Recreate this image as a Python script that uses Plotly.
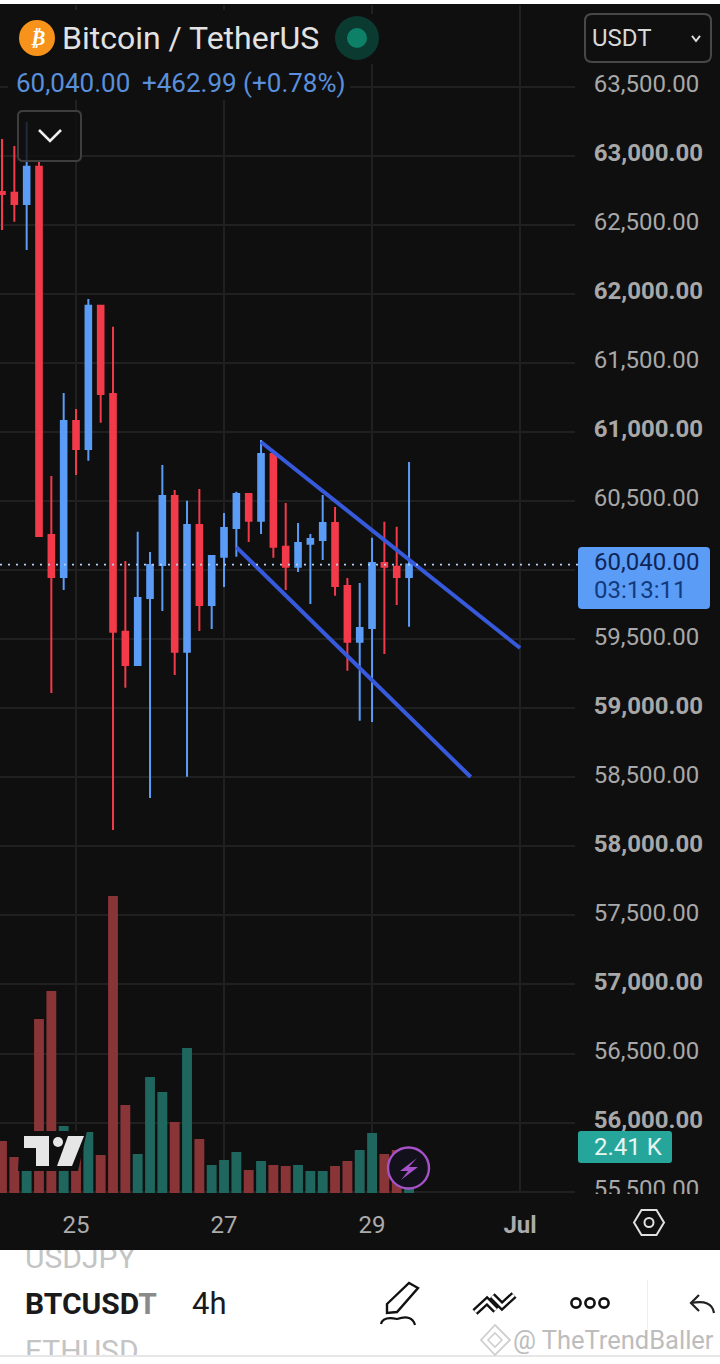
import plotly.graph_objects as go

W, H = 720, 1364

# ---------------- data ----------------
times = [
    "2024-06-24 00:00", "2024-06-24 04:00", "2024-06-24 08:00", "2024-06-24 12:00", "2024-06-24 16:00", "2024-06-24 20:00",
    "2024-06-25 00:00", "2024-06-25 04:00", "2024-06-25 08:00", "2024-06-25 12:00", "2024-06-25 16:00", "2024-06-25 20:00",
    "2024-06-26 00:00", "2024-06-26 04:00", "2024-06-26 08:00", "2024-06-26 12:00", "2024-06-26 16:00", "2024-06-26 20:00",
    "2024-06-27 00:00", "2024-06-27 04:00", "2024-06-27 08:00", "2024-06-27 12:00", "2024-06-27 16:00", "2024-06-27 20:00",
    "2024-06-28 00:00", "2024-06-28 04:00", "2024-06-28 08:00", "2024-06-28 12:00", "2024-06-28 16:00", "2024-06-28 20:00",
    "2024-06-29 00:00", "2024-06-29 04:00", "2024-06-29 08:00", "2024-06-29 12:00",
]
opens = [62738, 62733, 62651, 62921, 60254, 59950, 61080, 60877, 61915, 61275, 59554, 59313,
         59798, 60037, 60537, 59409, 60327, 59747, 60097, 60305, 60551, 60358, 60841, 60169,
         60025, 60191, 60218, 60341, 59885, 59482, 59581, 60051, 60025, 59950]
highs = [63122, 63071, 63245, 62955, 60681, 61282, 61167, 61963, 61920, 61762, 60066, 60278,
         60131, 60761, 60580, 60503, 60587, 60109, 60413, 60568, 60555, 60942, 60848, 60486,
         60341, 60261, 60544, 60457, 59943, 59907, 60235, 60350, 60314, 60783]
lows = [62463, 62523, 62318, 60247, 59110, 59856, 60689, 60792, 61067, 58118, 59148, 59313,
        58350, 59704, 59240, 58504, 59559, 59574, 59878, 60097, 60203, 60261, 60090, 59856,
        59986, 59755, 60073, 59815, 59272, 58910, 58900, 59392, 59747, 59590]
closes = [62723, 62651, 62921, 60247, 59950, 61080, 60877, 61915, 61275, 59554, 59313, 59798,
          60037, 60537, 59409, 60327, 59747, 60102, 60305, 60551, 60358, 60841, 60169, 60025,
          60196, 60225, 60341, 59885, 59482, 59581, 60051, 60025, 59950, 60040]
volumes_k = [26, 18, 20.5, 87, 101, 33.5, 18.5, 30.5, 19, 148.5, 44, 19.5,
             58, 50.5, 35.5, 72.5, 27, 14, 16.5, 20.5, 11.5, 16, 14, 13.5,
             14, 11, 11, 13.5, 16, 21.5, 30, 19.5, 21.5, 2.41]

upper_x = ["2024-06-27 12:00", "2024-07-01 00:00"]
upper_y = [60928, 59436]
lower_x = ["2024-06-27 04:00", "2024-06-30 08:00"]
lower_y = [60167, 58502]

last_price = 60040
price_ticks = [55500 + 500 * i for i in range(17)]
date_ticks = ["2024-06-25", "2024-06-27", "2024-06-29", "2024-07-01"]
date_labels = ["25", "27", "29", "<b>Jul</b>"]

# ---------------- colours ----------------
BG = "#0f0f0f"
GRID = "#202020"
BLUE = "#5b9cf6"
RED = "#f23a4a"
VOL_RED = "#893436"
VOL_TEAL = "#1f665f"
LINE = "#3759dc"


def px(x):
    return x / W


def py(y):
    return 1 - y / H


def poly(points, close=False):
    s = "M " + " L ".join(f"{px(x):.5f},{py(y):.5f}" for x, y in points)
    return s + (" Z" if close else "")


def rrect(x0, y0, x1, y1, r):
    a = r
    return (f"M {px(x0+a):.5f},{py(y0):.5f} L {px(x1-a):.5f},{py(y0):.5f} Q {px(x1):.5f},{py(y0):.5f} {px(x1):.5f},{py(y0+a):.5f} "
            f"L {px(x1):.5f},{py(y1-a):.5f} Q {px(x1):.5f},{py(y1):.5f} {px(x1-a):.5f},{py(y1):.5f} "
            f"L {px(x0+a):.5f},{py(y1):.5f} Q {px(x0):.5f},{py(y1):.5f} {px(x0):.5f},{py(y1-a):.5f} "
            f"L {px(x0):.5f},{py(y0+a):.5f} Q {px(x0):.5f},{py(y0):.5f} {px(x0+a):.5f},{py(y0):.5f} Z")


shapes = []


def add_path(path, fill=None, line=None, width=0, layer="above"):
    shapes.append(dict(type="path", xref="paper", yref="paper", path=path, layer=layer,
                       fillcolor=fill or "rgba(0,0,0,0)",
                       line=dict(color=line or "rgba(0,0,0,0)", width=width)))


def add_rect(x0, y0, x1, y1, fill, layer="above"):
    shapes.append(dict(type="rect", xref="paper", yref="paper", x0=px(x0), x1=px(x1), y0=py(y1), y1=py(y0),
                       fillcolor=fill, line=dict(width=0), layer=layer))


def add_circle(cx, cy, r, fill=None, line=None, width=0):
    shapes.append(dict(type="circle", xref="paper", yref="paper", x0=px(cx - r), x1=px(cx + r),
                       y0=py(cy + r), y1=py(cy - r), fillcolor=fill or "rgba(0,0,0,0)",
                       line=dict(color=line or "rgba(0,0,0,0)", width=width), layer="above"))


annotations = []


def add_text(x, y, text, size, color, anchor="left"):
    annotations.append(dict(xref="paper", yref="paper", x=px(x), y=py(y), text=text, showarrow=False,
                            xanchor=anchor, yanchor="middle", borderpad=0, borderwidth=0,
                            font=dict(family="Roboto", size=size, color=color)))


# dark page area behind the chart
add_rect(0, 4, 720, 1250, BG, layer="below")

fig = go.Figure()
fig.add_trace(go.Candlestick(
    x=times, open=opens, high=highs, low=lows, close=closes,
    increasing=dict(line=dict(color=BLUE, width=2), fillcolor=BLUE),
    decreasing=dict(line=dict(color=RED, width=2), fillcolor=RED),
    showlegend=False, hoverinfo="skip"))
fig.add_trace(go.Bar(
    x=times, y=volumes_k, yaxis="y2", showlegend=False, hoverinfo="skip",
    marker=dict(color=[VOL_TEAL if c >= o else VOL_RED for o, c in zip(opens, closes)], line=dict(width=0))))
for xs, ys in ((upper_x, upper_y), (lower_x, lower_y)):
    fig.add_trace(go.Scatter(x=xs, y=ys, mode="lines", line=dict(color=LINE, width=4),
                             showlegend=False, hoverinfo="skip"))

# bottom-panel list text, clipped by its own small plot area
panel_labels = ["USDJPY", "<b>BTCUSD<span style='color:#8a8a8a'>T</span></b>", "4h", "ETHUSD"]
panel_x = [25, 25, 192, 25]
panel_y = [1260, 1306, 1306, 1353]
fig.add_trace(go.Scatter(
    x=panel_x, y=panel_y, text=panel_labels,
    mode="text", textposition="middle right", xaxis="x3", yaxis="y3", cliponaxis=True,
    textfont=dict(family="Roboto", size=[30, 30, 31, 30], color=["#c4c4c4", "#1a1a1a", "#1a1a1a", "#c4c4c4"]),
    showlegend=False, hoverinfo="skip"))

# ---------------- decorations ----------------
add_rect(8, 10, 350, 100, BG)
add_rect(340, 14, 392, 64, BG)

shapes.append(dict(type="line", xref="paper", yref="y", x0=0, x1=px(578), y0=last_price, y1=last_price,
                   line=dict(color="#b4cdf5", width=1.6, dash="2px,6px"), layer="above"))

add_rect(578, 1194, 720, 1250, BG)

add_circle(37, 38, 18, fill="#f7931a")
add_text(37, 38, "<b><i>₿</i></b>", 21, "#ffffff", anchor="center")
add_text(62, 38, "Bitcoin / TetherUS", 32, "#e2e2e2")
add_circle(357, 38, 22, fill="#0b3a30")
add_circle(357, 38, 10, fill="#0e8068")
add_text(16, 83, "60,040.00", 26, "#5a8fdc")
add_text(142, 83, "+462.99 (+0.78%)", 26, "#5a8fdc")

add_path(rrect(18, 111, 81, 161, 5), fill="rgba(15,15,15,0.8)", line="#3e3e3e", width=2)
add_path(poly([(39, 130), (50, 141), (61, 130)]), line="#eeeeee", width=2.6)

add_path(rrect(585, 14, 711, 62, 7), line="#484848", width=2)
add_text(592, 38, "USDT", 24, "#d8d8d8")
add_path(poly([(692, 36), (696, 41), (700, 36)]), line="#dddddd", width=2)

add_path(rrect(578, 547, 710, 609, 4), fill=BLUE)
add_text(594, 562, "60,040.00", 24, "#0f2558")
add_text(594, 590, "03:13:11", 24, "#123a7c")

add_path(rrect(578, 1131, 672, 1163, 3), fill="#26a69a")
add_text(594, 1147, "2.41 K", 24, "#e8f5f3")

add_path(poly([(20, 1131), (87, 1131), (78, 1171), (50, 1171), (18, 1171)], True), fill=BG)
add_path(poly([(24, 1136), (49, 1136), (49, 1166), (36, 1166), (36, 1148), (24, 1148)], True), fill="#e6e6e6")
add_path(poly([(68, 1136), (84, 1136), (72, 1166), (57, 1166)], True), fill="#e6e6e6")
add_circle(58, 1142, 5, fill="#e6e6e6")

add_circle(408.5, 1168, 20.5, fill="#12101a", line="#a551c8", width=2.4)
add_path(poly([(417, 1158), (400, 1171), (408, 1171), (401, 1180), (418, 1167), (409, 1167)], True), fill="#a551c8")

add_path(poly([(634, 1222.5), (641.5, 1210), (656.5, 1210), (664, 1222.5), (656.5, 1235), (641.5, 1235)], True), line="#e0e0e0", width=2)
add_circle(649, 1222.5, 4.5, line="#e0e0e0", width=2)

add_path(poly([(387, 1304), (409, 1283), (418, 1288), (397, 1312), (387, 1313)], True), line="#111111", width=2.4)
add_path(f"M {px(381):.5f},{py(1324):.5f} Q {px(383):.5f},{py(1316):.5f} {px(397):.5f},{py(1319):.5f} "
         f"Q {px(412):.5f},{py(1314):.5f} {px(415):.5f},{py(1325):.5f}", line="#111111", width=2.2)
for pts in ([(475, 1312), (487, 1301), (496, 1310)], [(492, 1296), (502, 1306), (514, 1295)]):
    add_path(poly(pts), line="#111111", width=7.5)
    add_path(poly(pts), line="#ffffff", width=2.8)
for cx in (576, 590, 604):
    add_circle(cx, 1303, 4.6, line="#111111", width=2.6)
add_rect(647, 1280, 648, 1330, "#eeeeee")
add_path(poly([(699, 1295), (691, 1303), (699, 1311)]), line="#222222", width=2.2)
add_path(f"M {px(691):.5f},{py(1303):.5f} Q {px(712):.5f},{py(1299):.5f} {px(714):.5f},{py(1313):.5f}", line="#222222", width=2.2)
add_rect(0, 1355, 720, 1357, "#e6e6e6")

add_path(poly([(495, 1325), (510, 1340), (495, 1355), (481, 1340)], True), line="#cfcfcf", width=1.8)
add_path(poly([(495, 1333), (502, 1340), (495, 1347), (488, 1340)], True), line="#cfcfcf", width=1.6)
add_text(513, 1340, "@ TheTrendBaller", 25.5, "#bdbdbd")

# ---------------- axes ----------------
tick_text = []
for p in price_ticks:
    lab = f"{p:,.2f}"
    if p == 60000:  # hidden behind the last-price label in the reference
        tick_text.append("")
    else:
        tick_text.append(f"<b>{lab}</b>" if p % 1000 == 0 else lab)

DOM_X = [0, 575 / W]
DOM_Y = [py(1193), py(5)]

fig.update_layout(
    width=W, height=H, autosize=False,
    margin=dict(l=0, r=0, t=0, b=0, pad=0),
    paper_bgcolor="#ffffff", plot_bgcolor="rgba(0,0,0,0)",
    showlegend=False, bargap=0.2, boxgap=0.35,
    shapes=shapes, annotations=annotations,
    font=dict(family="Roboto"),
    xaxis=dict(domain=DOM_X, type="date", range=["2024-06-23 23:21", "2024-07-01 17:49"], automargin=False,
               tickmode="array", tickvals=date_ticks, ticktext=date_labels,
               showgrid=True, gridcolor=GRID, gridwidth=1.5, zeroline=False, showline=False,
               ticks="outside", ticklen=10, tickcolor="rgba(0,0,0,0)", tickangle=0,
               tickfont=dict(family="Roboto", size=24, color="#ababab"),
               rangeslider=dict(visible=False), fixedrange=True),
    yaxis=dict(domain=DOM_Y, range=[55490, 64092], side="right", anchor="x", automargin=False,
               tickmode="array", tickvals=price_ticks, ticktext=tick_text,
               showgrid=True, gridcolor=GRID, gridwidth=1.5, zeroline=False, showline=False,
               ticks="outside", ticklen=13, tickcolor="rgba(0,0,0,0)", ticklabelshift=-3,
               tickfont=dict(family="Roboto", size=24, color="#a8a8a8"), fixedrange=True),
    yaxis2=dict(domain=DOM_Y, range=[0, 594], overlaying="y", anchor="x", side="left", automargin=False,
                visible=False, fixedrange=True),
    xaxis3=dict(domain=[0, 1], range=[0, 720], anchor="y3", visible=False, fixedrange=True, automargin=False),
    yaxis3=dict(domain=[py(1355), py(1250)], range=[1355, 1250], anchor="x3", visible=False, fixedrange=True, automargin=False),
)

fig.write_html("out.html", config=dict(displayModeBar=False),
               post_script="document.body.style.margin='0';document.documentElement.style.overflow='hidden';")
